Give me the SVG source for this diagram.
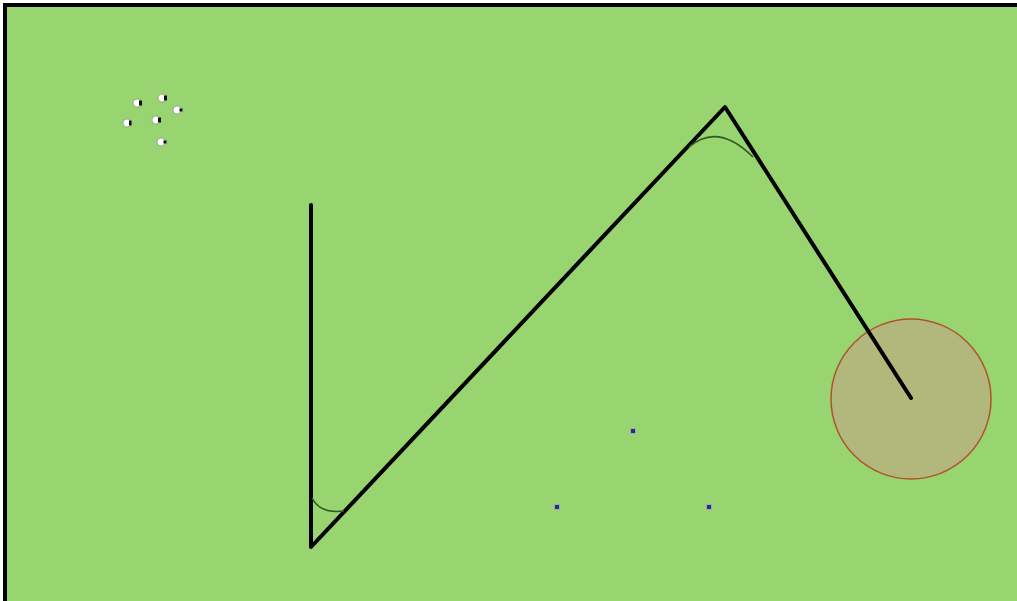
<svg xmlns="http://www.w3.org/2000/svg" width="1017" height="601" viewBox="0 0 1017 601">
<style>
.path{fill:none;stroke:#000;stroke-width:4;stroke-linecap:round;stroke-linejoin:round}
.arc{fill:none;stroke:#2f5a22;stroke-width:1.6}
.sheep-body{fill:#fff;stroke:#666;stroke-width:0.5}
.sheep-head{fill:#111}
.mark{fill:#334;stroke:#9aa6e6;stroke-width:1}
</style>
<rect x="0" y="0" width="1017" height="601" fill="#fff"/>
<rect x="5" y="5" width="1030" height="620" fill="#98d46f" stroke="#000" stroke-width="4"/>
<g id="zone">
<circle cx="911" cy="399" r="80" fill="#b2b87c" stroke="#b0532b" stroke-width="1.5"/>
</g>
<g id="flock">
<g transform="translate(137,103)"><circle class="sheep-body" r="4"/><rect class="sheep-head" x="2" y="-2.5" width="3" height="5"/></g>
<g transform="translate(162,98)"><circle class="sheep-body" r="4"/><rect class="sheep-head" x="2" y="-2.5" width="3" height="5"/></g>
<g transform="translate(177,110)"><circle class="sheep-body" r="4"/><rect class="sheep-head" x="2.5" y="-1.5" width="3" height="3"/></g>
<g transform="translate(127,123)"><circle class="sheep-body" r="4"/><rect class="sheep-head" x="2" y="-2.5" width="2.5" height="5"/></g>
<g transform="translate(156,120)"><circle class="sheep-body" r="4"/><rect class="sheep-head" x="2" y="-2.5" width="3" height="5"/></g>
<g transform="translate(161,142)"><circle class="sheep-body" r="4"/><rect class="sheep-head" x="2.5" y="-1.5" width="3" height="3"/></g>
</g>
<g id="markers">
<g id="m1" transform="translate(633,431)"><path class="mark" d="M-2.5,-2.5h5v5h-5z"/></g>
<g id="m2" transform="translate(557,507)"><path class="mark" d="M-2.5,-2.5h5v5h-5z"/></g>
<g id="m3" transform="translate(709,507)"><path class="mark" d="M-2.5,-2.5h5v5h-5z"/></g>
</g>
<g id="connectors">
<polyline class="path" points="311,205 311,547 725,107 911,398"/>
<path class="arc" d="M312,498 Q320,514 344,511"/>
<path class="arc" d="M689,147 Q718,122 753,157"/>
</g>
</svg>
